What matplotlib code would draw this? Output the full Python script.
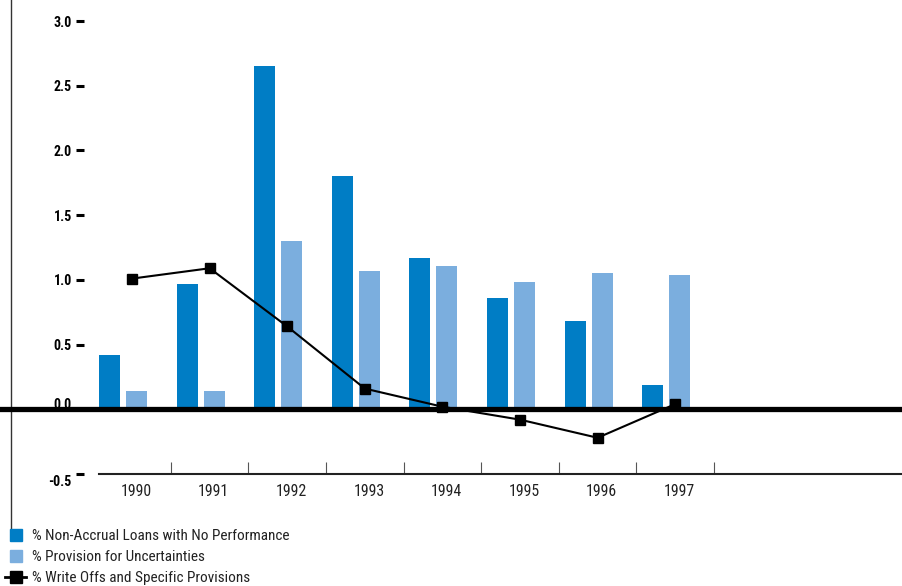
import numpy as np
import matplotlib
matplotlib.use("Agg")
import matplotlib.pyplot as plt
import matplotlib.patches as mpatches
import matplotlib.transforms as mtransforms
from matplotlib import font_manager as fm
from matplotlib.lines import Line2D
from matplotlib.legend_handler import HandlerPatch

# ---- data ----
years = ["1990", "1991", "1992", "1993", "1994", "1995", "1996", "1997"]
non_accrual = [0.42, 0.97, 2.65, 1.80, 1.17, 0.86, 0.68, 0.19]
provision = [0.14, 0.14, 1.30, 1.07, 1.11, 0.98, 1.05, 1.04]
write_offs = [1.01, 1.09, 0.64, 0.16, 0.02, -0.08, -0.22, 0.04]
y_ticks = [-0.5, 0.0, 0.5, 1.0, 1.5, 2.0, 2.5, 3.0]
y_tick_labels = ["-0.5", "0.0", "0.5", "1.0", "1.5", "2.0", "2.5", "3.0"]
series_names = ["% Non-Accrual Loans with No Performance",
                "% Provision for Uncertainties",
                "% Write Offs and Specific Provisions"]

DARK_BLUE = "#007DC5"
LIGHT_BLUE = "#7BAEDE"


def find_narrow_sans():
    """Return (family, stretch) of an installed condensed sans face, if any."""
    condensed = {"condensed", "semi-condensed", "extra-condensed", "ultra-condensed"}
    fonts = fm.fontManager.ttflist
    names = {f.name for f in fonts}
    for fam in ["Liberation Sans Narrow", "Arial Narrow", "Roboto Condensed",
                "Noto Sans Condensed", "Open Sans Condensed", "DejaVu Sans Condensed"]:
        if fam in names:
            return fam, "normal"
    for fam in ["Roboto", "Noto Sans", "Open Sans", "DejaVu Sans", "Lato", "Inter"]:
        for f in fonts:
            if f.name == fam and str(f.stretch) in condensed:
                return fam, "condensed"
    for f in fonts:
        low = f.name.lower()
        if ("narrow" in low or "condensed" in low) and "mono" not in low and "cjk" not in low:
            return f.name, "normal"
    return None, None


narrow, stretch = find_narrow_sans()
if narrow:
    plt.rcParams['font.family'] = [narrow, 'DejaVu Sans']
    plt.rcParams['font.stretch'] = stretch
    fs_scale = 1.0
else:
    plt.rcParams['font.family'] = ['Liberation Sans', 'DejaVu Sans']
    fs_scale = 0.9

W, H = 902, 586
fig = plt.figure(figsize=(W / 100, H / 100), dpi=100)
ax = fig.add_axes([84 / W, 112 / H, 818 / W, 474 / H])

x = np.arange(len(years))
bar_w = 0.27
ax.bar(x - 0.425, non_accrual, width=bar_w, align="edge", color=DARK_BLUE, zorder=2)
ax.bar(x - 0.077, provision, width=bar_w, align="edge", color=LIGHT_BLUE, zorder=2)
ax.plot(x, write_offs, color="black", lw=1.5, marker="s", ms=7.6, zorder=3)

ax.set_xlim(-0.619, 9.923)
ax.set_ylim(-0.5, 3.163)

for side in ("top", "right", "left"):
    ax.spines[side].set_visible(False)
ax.spines["bottom"].set_bounds(-0.425, ax.get_xlim()[1])
ax.spines["bottom"].set_linewidth(1.5)
ax.spines["bottom"].set_color("#222222")

# category separators and year labels
ax.set_xticks(x + 0.5)
ax.tick_params(axis="x", which="major", direction="in", length=8.6, width=0.8,
               color="#555555", labelbottom=False)
ax.set_xticks(x, minor=True)
ax.set_xticklabels(years, minor=True)
ax.tick_params(axis="x", which="minor", length=0, pad=7.5, labelsize=11.4 * fs_scale,
               labelcolor="#222222")
shift_right = mtransforms.ScaledTranslation(4 / 100, 0, fig.dpi_scale_trans)
for tick in ax.xaxis.get_minor_ticks():
    tick.label1.set_transform(tick.label1.get_transform() + shift_right)

# value axis
ax.set_yticks(y_ticks)
ax.set_yticklabels(y_tick_labels)
ax.tick_params(axis="y", direction="out", length=5.8, width=2.2, color="black",
               pad=3, labelsize=10 * fs_scale)
for lbl in ax.get_yticklabels():
    lbl.set_fontweight("bold")
nudges = {0.0: 6, -0.5: -6}
for tick, val in zip(ax.yaxis.get_major_ticks(), y_ticks):
    if val in nudges:
        off = mtransforms.ScaledTranslation(0, nudges[val] / 100, fig.dpi_scale_trans)
        tick.label1.set_transform(tick.label1.get_transform() + off)

# heavy zero baseline across the full width
zero_tr = mtransforms.blended_transform_factory(fig.transFigure, ax.transData)
fig.add_artist(Line2D([0, 1], [0, 0], transform=zero_tr, lw=3.8, color="black",
                      zorder=4, clip_on=False))

# thin frame line on the left
fig.add_artist(Line2D([11 / W, 11 / W], [1, (H - 530) / H], transform=fig.transFigure,
                      lw=1.0, color="#333333"))


def square_patch(legend, orig_handle, xdescent, ydescent, width, height, fontsize):
    side = height
    return mpatches.Rectangle((-xdescent + (width - side) / 2, -ydescent), side, side)


handles = [mpatches.Patch(color=DARK_BLUE), mpatches.Patch(color=LIGHT_BLUE),
           Line2D([], [], color="black", lw=2, marker="s", ms=8.5)]
fig.legend(handles, series_names, loc="upper left",
           bbox_to_anchor=(5 / W, (H - 529) / H), frameon=False, fontsize=11 * fs_scale,
           handlelength=1.4, handleheight=0.8, handletextpad=0.35,
           labelspacing=0.45, borderaxespad=0, borderpad=0,
           labelcolor="#222222",
           handler_map={mpatches.Patch: HandlerPatch(patch_func=square_patch)})

fig.savefig("out.png", dpi=100)
